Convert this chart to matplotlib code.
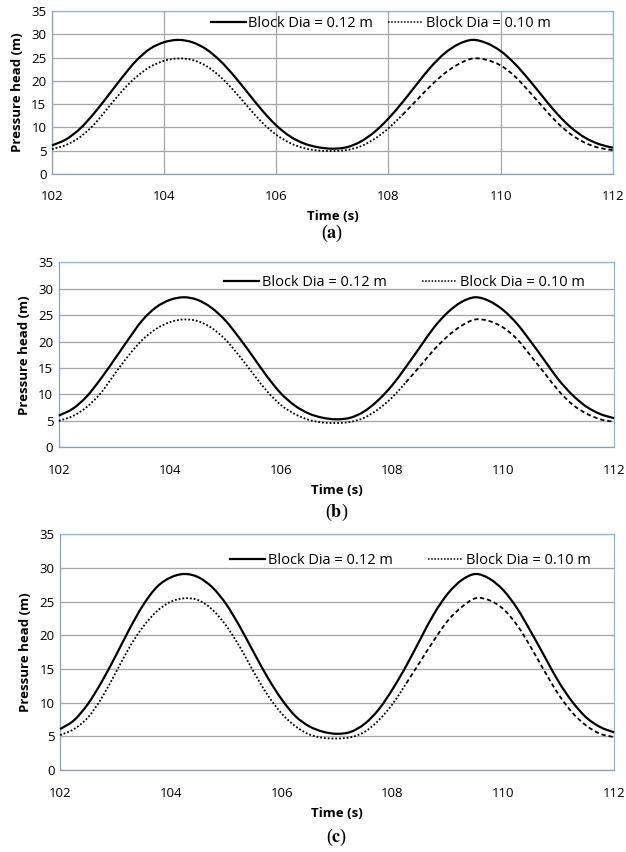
"""Pressure head vs time for two block diameters, three cases (a)-(c)."""

import matplotlib

matplotlib.use("Agg")
import matplotlib.pyplot as plt
from matplotlib.lines import Line2D
from matplotlib.patches import PathPatch
from matplotlib.path import Path

plt.rcParams["font.family"] = ["Open Sans", "DejaVu Sans"]
plt.rcParams["mathtext.fontset"] = "stix"

# time axis (s), one reading every 0.25 s
time_s = [102 + 0.25 * i for i in range(41)]

# case (a)
head_a_012 = [6.1, 7.4, 9.7, 13.0, 16.8, 20.7, 24.3, 26.9, 28.3, 28.8, 28.3,
              26.8, 24.3, 21.0, 17.3, 13.6, 10.4, 8.0, 6.5, 5.7, 5.4, 5.7, 6.9,
              9.0, 11.9, 15.4, 19.2, 22.9, 25.9, 27.9, 28.8, 28.1, 26.4, 23.7,
              20.3, 16.6, 13.0, 10.0, 7.8, 6.4, 5.6]
head_a_010 = [5.3, 6.2, 7.9, 10.6, 14.2, 17.8, 20.8, 23.0, 24.3, 24.8, 24.5,
              23.2, 20.9, 17.8, 14.3, 11.0, 8.4, 6.6, 5.5, 5.0, 4.9, 5.1, 5.9,
              7.5, 9.8, 12.7, 15.8, 18.9, 21.6, 23.6, 24.8, 24.5, 23.3, 21.0,
              17.8, 14.4, 11.1, 8.5, 6.7, 5.6, 5.1]

# case (b)
head_b_012 = [6.0, 7.3, 9.6, 12.9, 16.6, 20.4, 24.0, 26.5, 27.9, 28.4, 27.9,
              26.4, 24.0, 20.7, 17.1, 13.4, 10.2, 7.9, 6.4, 5.6, 5.3, 5.6, 6.8,
              8.9, 11.7, 15.2, 18.9, 22.6, 25.5, 27.5, 28.4, 27.7, 26.0, 23.4,
              20.0, 16.4, 12.8, 9.9, 7.7, 6.3, 5.5]
head_b_010 = [5.0, 5.9, 7.6, 10.2, 13.8, 17.3, 20.3, 22.4, 23.7, 24.2, 23.9,
              22.6, 20.4, 17.3, 13.9, 10.6, 8.0, 6.3, 5.2, 4.7, 4.6, 4.8, 5.6,
              7.2, 9.4, 12.3, 15.3, 18.4, 21.0, 23.0, 24.2, 23.9, 22.7, 20.5,
              17.3, 14.0, 10.7, 8.1, 6.4, 5.3, 4.8]

# case (c)
head_c_012 = [6.1, 7.4, 9.8, 13.1, 16.9, 20.9, 24.5, 27.2, 28.6, 29.1, 28.6,
              27.1, 24.6, 21.2, 17.4, 13.7, 10.5, 8.0, 6.5, 5.7, 5.4, 5.7, 6.9,
              9.0, 12.0, 15.5, 19.4, 23.2, 26.2, 28.2, 29.1, 28.4, 26.7, 24.0,
              20.5, 16.8, 13.1, 10.1, 7.8, 6.4, 5.6]
head_c_010 = [5.2, 6.1, 7.8, 10.7, 14.4, 18.2, 21.3, 23.6, 25.0, 25.5, 25.2,
              23.8, 21.4, 18.2, 14.5, 11.1, 8.4, 6.5, 5.3, 4.8, 4.7, 4.9, 5.7,
              7.4, 9.8, 12.9, 16.1, 19.3, 22.2, 24.2, 25.5, 25.2, 23.9, 21.5,
              18.2, 14.6, 11.2, 8.5, 6.6, 5.4, 4.9]

x_ticks = [102, 104, 106, 108, 110, 112]
y_ticks = [0, 5, 10, 15, 20, 25, 30, 35]
series_labels = ["Block Dia = 0.12 m", "Block Dia = 0.10 m"]
panel_letters = ["a", "b", "c"]

# the dotted series is drawn with dashes from this reading on
_DASH_FROM = 25
_DOT = (0, (1, 1.1))
_DASH = (0, (2.4, 1.6))

_PANELS = [
    # rect, legend anchor, legend column gap, vertical grid, letter y
    ((0.083, 0.796, 0.896, 0.191), (0.586, 0.926), 1.0, True, 0.7265),
    ((0.094, 0.475, 0.887, 0.217), (0.623, 0.892), 2.4, False, 0.3990),
    ((0.096, 0.096, 0.885, 0.277), (0.632, 0.890), 2.4, False, 0.0176),
]


def _smooth_path(xs, ys):
    """Excel-style smoothed line: Catmull-Rom through the readings as Bezier."""
    n = len(xs)
    tangents = []
    for i in range(n):
        lo, hi = max(i - 1, 0), min(i + 1, n - 1)
        scale = 1.0 if (hi - lo) == 2 else 2.0
        tangents.append(((xs[hi] - xs[lo]) * scale / 2, (ys[hi] - ys[lo]) * scale / 2))
    verts = [(xs[0], ys[0])]
    codes = [Path.MOVETO]
    for i in range(n - 1):
        verts.append((xs[i] + tangents[i][0] / 3, ys[i] + tangents[i][1] / 3))
        verts.append((xs[i + 1] - tangents[i + 1][0] / 3, ys[i + 1] - tangents[i + 1][1] / 3))
        verts.append((xs[i + 1], ys[i + 1]))
        codes += [Path.CURVE4] * 3
    return Path(verts, codes)


def _draw_curve(ax, xs, ys, linewidth, linestyle):
    ax.add_patch(PathPatch(_smooth_path(xs, ys), fill=False, edgecolor="black",
                           linewidth=linewidth, linestyle=linestyle,
                           capstyle="butt", zorder=3, clip_on=False))


def _draw_panel(fig, rect, legend_xy, col_gap, vgrid, letter_y, solid, dotted, letter):
    ax = fig.add_axes(rect)
    ax.set_xlim(x_ticks[0], x_ticks[-1])
    ax.set_ylim(y_ticks[0], y_ticks[-1])
    ax.set_xticks(x_ticks)
    ax.set_yticks(y_ticks)
    ax.tick_params(length=0, labelsize=9.5)
    ax.tick_params(axis="x", pad=12)
    ax.tick_params(axis="y", pad=4)

    ax.grid(True, axis="y", color="#a6a6a6", linewidth=0.9)
    if vgrid:
        ax.grid(True, axis="x", color="#a6a6a6", linewidth=0.9)
    ax.set_axisbelow(True)

    for side in ("left", "bottom"):
        ax.spines[side].set_color("#8da0b8")
    for side in ("top", "right"):
        ax.spines[side].set_color("#8db4e2")
    for spine in ax.spines.values():
        spine.set_linewidth(0.9)

    _draw_curve(ax, time_s, solid, 1.6, "solid")
    _draw_curve(ax, time_s[:_DASH_FROM + 1], dotted[:_DASH_FROM + 1], 1.3, _DOT)
    _draw_curve(ax, time_s[_DASH_FROM:], dotted[_DASH_FROM:], 1.3, _DASH)

    handles = [
        Line2D([0], [0], color="black", linewidth=1.6, label=series_labels[0]),
        Line2D([0], [0], color="black", linewidth=1.1, linestyle=_DOT,
               label=series_labels[1]),
    ]
    ax.legend(handles=handles, loc="center", bbox_to_anchor=legend_xy, ncol=2,
              frameon=False, fontsize=10.5, handlelength=2.4, handletextpad=0.2,
              columnspacing=col_gap, borderaxespad=0, borderpad=0)

    ax.set_ylabel("Pressure head (m)", fontsize=9.5, fontweight="bold", labelpad=5)
    ax.set_xlabel("Time (s)", fontsize=9.5, fontweight="bold", labelpad=5)

    x0, _, w, _ = rect
    fig.text(x0 + w / 2, letter_y, "(" + rf"$\mathbf{{{letter}}}$" + ")",
             ha="center", va="center", fontsize=13, family="Liberation Serif")
    return ax


fig = plt.figure(figsize=(6.26, 8.52), dpi=100)
series = [(head_a_012, head_a_010), (head_b_012, head_b_010), (head_c_012, head_c_010)]
for (rect, legend_xy, col_gap, vgrid, letter_y), (solid, dotted), letter in zip(
        _PANELS, series, panel_letters):
    _draw_panel(fig, rect, legend_xy, col_gap, vgrid, letter_y, solid, dotted, letter)

fig.savefig("out.png", dpi=100)
plt.close(fig)
